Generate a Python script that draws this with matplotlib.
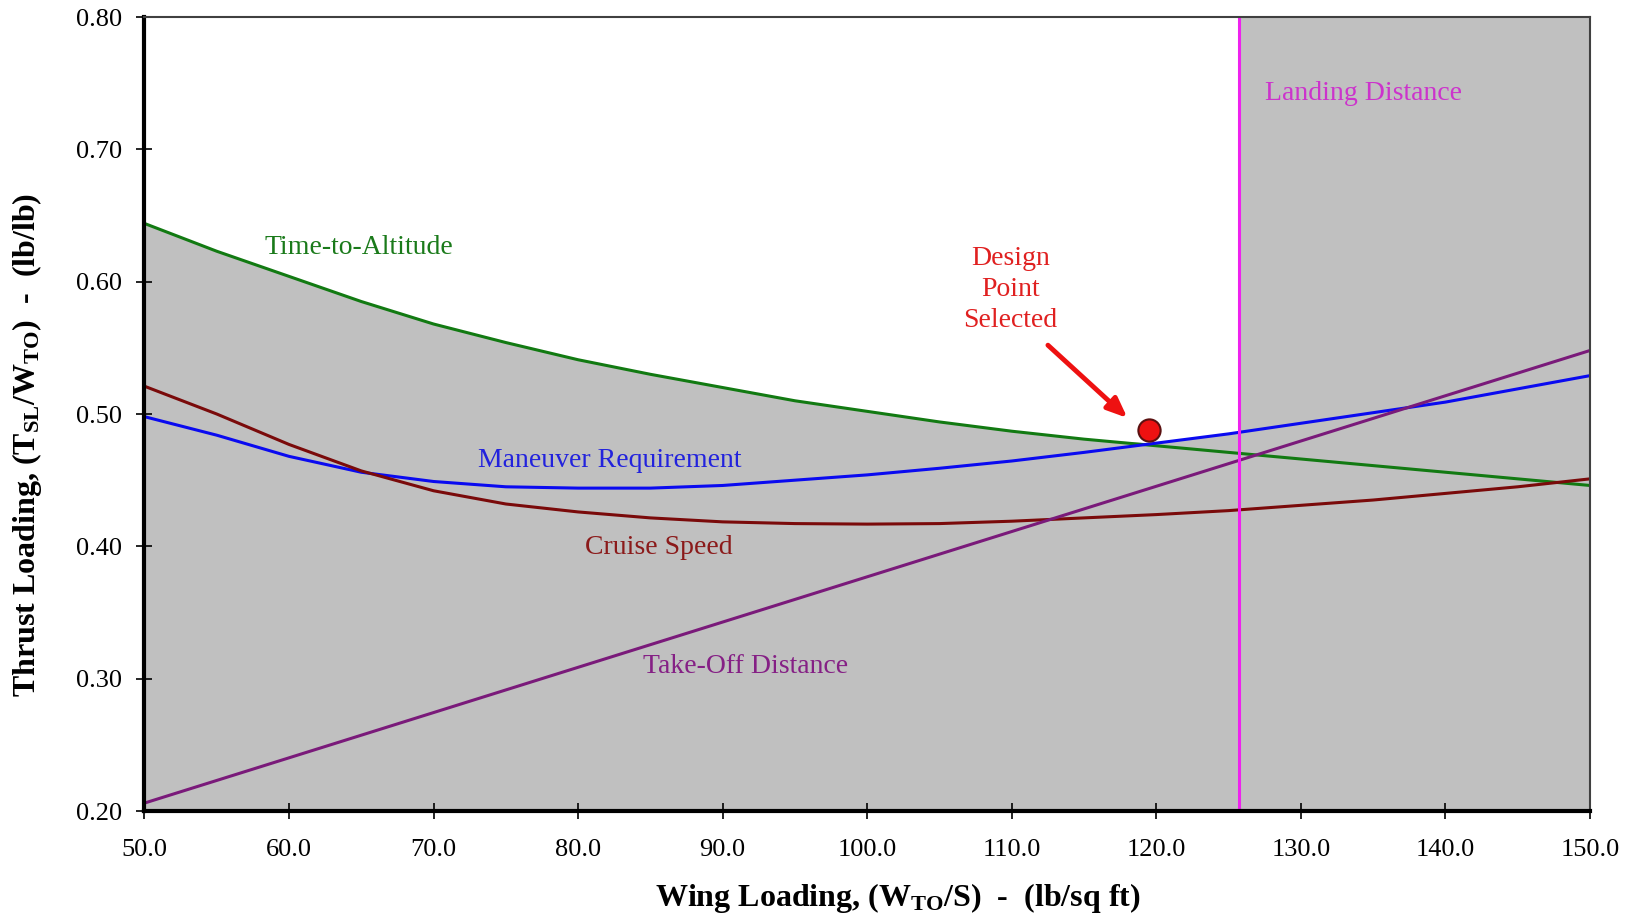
import numpy as np
import matplotlib.pyplot as plt

plt.rcParams['font.family'] = 'Liberation Serif'
plt.rcParams['mathtext.fontset'] = 'custom'
plt.rcParams['mathtext.rm'] = 'Liberation Serif'
plt.rcParams['mathtext.bf'] = 'Liberation Serif:bold'
plt.rcParams['mathtext.it'] = 'Liberation Serif:italic'

# Wing loading grid [lb/sq ft]
wing_loading = [50, 55, 60, 65, 70, 75, 80, 85, 90, 95, 100,
                105, 110, 115, 120, 125, 130, 135, 140, 145, 150]

# Constraint curves, thrust loading [lb/lb]
time_to_altitude = [0.644, 0.623, 0.604, 0.585, 0.568, 0.554, 0.541, 0.530, 0.520, 0.510, 0.502,
                    0.494, 0.487, 0.481, 0.476, 0.471, 0.466, 0.461, 0.456, 0.451, 0.446]
maneuver = [0.498, 0.484, 0.468, 0.456, 0.449, 0.445, 0.444, 0.444, 0.446, 0.450, 0.454,
            0.459, 0.4645, 0.471, 0.478, 0.485, 0.493, 0.501, 0.509, 0.519, 0.529]
cruise_speed = [0.521, 0.500, 0.477, 0.457, 0.442, 0.432, 0.426, 0.4215, 0.4185, 0.4172, 0.4168,
                0.4172, 0.419, 0.4215, 0.424, 0.427, 0.431, 0.435, 0.440, 0.445, 0.451]
takeoff_x = [50, 150]
takeoff = [0.206, 0.548]
landing_wl = 125.7

design_point = (119.5, 0.488)

x = np.array(wing_loading)
envelope = np.maximum.reduce([np.array(time_to_altitude), np.array(maneuver),
                              np.array(cruise_speed), np.interp(x, takeoff_x, takeoff)])

fig = plt.figure(figsize=(16.38, 9.19), dpi=100)
ax = fig.add_axes([0.0882, 0.1175, 0.8825, 0.864])

gray = '#c0c0c0'
ax.fill_between(x, 0.2, envelope, color=gray, lw=0, zorder=1)
ax.axvspan(landing_wl, 150, color=gray, lw=0, zorder=1)

lw = 2.2
ax.plot(x, time_to_altitude, color='#127a12', lw=lw, zorder=3)
ax.plot(x, maneuver, color='#0a0af0', lw=lw, zorder=3)
ax.plot(x, cruise_speed, color='#7a0a0a', lw=lw, zorder=3)
ax.plot(takeoff_x, takeoff, color='#7a1a7a', lw=lw, zorder=3)
ax.axvline(landing_wl, color='#ee22ee', lw=lw, zorder=3)

ax.plot(*design_point, 'o', ms=16, mfc='#ee1111', mec='#5a1010', mew=1.5, zorder=5)
ax.annotate('', xy=(118.0, 0.497), xytext=(112.5, 0.552),
            arrowprops=dict(arrowstyle='-|>,head_length=1.2,head_width=0.5',
                            color='#ee1111', lw=3.5, shrinkA=0, shrinkB=0), zorder=5)

fs = 20
ax.text(64.8, 0.626, 'Time-to-Altitude', color='#1a7a1a', fontsize=fs, ha='center', va='center')
ax.text(109.9, 0.594, 'Design\nPoint\nSelected', color='#e02020', fontsize=fs,
        ha='center', va='center', linespacing=1.3)
ax.text(82.2, 0.465, 'Maneuver Requirement', color='#2222dd', fontsize=fs, ha='center', va='center')
ax.text(85.6, 0.399, 'Cruise Speed', color='#8b1a1a', fontsize=fs, ha='center', va='center')
ax.text(91.6, 0.309, 'Take-Off Distance', color='#852085', fontsize=fs, ha='center', va='center')
ax.text(134.3, 0.742, 'Landing Distance', color='#cc33cc', fontsize=fs, ha='center', va='center')

ax.set_xlim(50, 150)
ax.set_ylim(0.2, 0.8)
ax.set_xticks(np.arange(50, 151, 10))
ax.set_yticks(np.arange(0.2, 0.81, 0.1))
ax.set_xticklabels([f'{v:.1f}' for v in np.arange(50, 151, 10)])
ax.set_yticklabels([f'{v:.2f}' for v in np.arange(0.2, 0.81, 0.1)])
ax.tick_params(direction='inout', length=12, width=1.2, labelsize=19)
ax.tick_params(axis='x', pad=14)
ax.tick_params(axis='y', pad=10)

for side in ('left', 'bottom'):
    ax.spines[side].set_linewidth(3)
    ax.spines[side].set_color('black')
for side in ('top', 'right'):
    ax.spines[side].set_linewidth(1.5)
    ax.spines[side].set_color('#404040')
for sp in ax.spines.values():
    sp.set_zorder(6)

ax.set_xlabel(r'Wing Loading, (W$_{\mathbf{TO}}$/S)  -  (lb/sq ft)', fontsize=23, fontweight='bold')
ax.set_ylabel(r'Thrust Loading, (T$_{\mathbf{SL}}$/W$_{\mathbf{TO}}$)  -  (lb/lb)', fontsize=23,
              fontweight='bold')
ax.xaxis.set_label_coords(0.521, -0.088)
ax.yaxis.set_label_coords(-0.0695, 0.461)

fig.savefig('out.png', dpi=100)
